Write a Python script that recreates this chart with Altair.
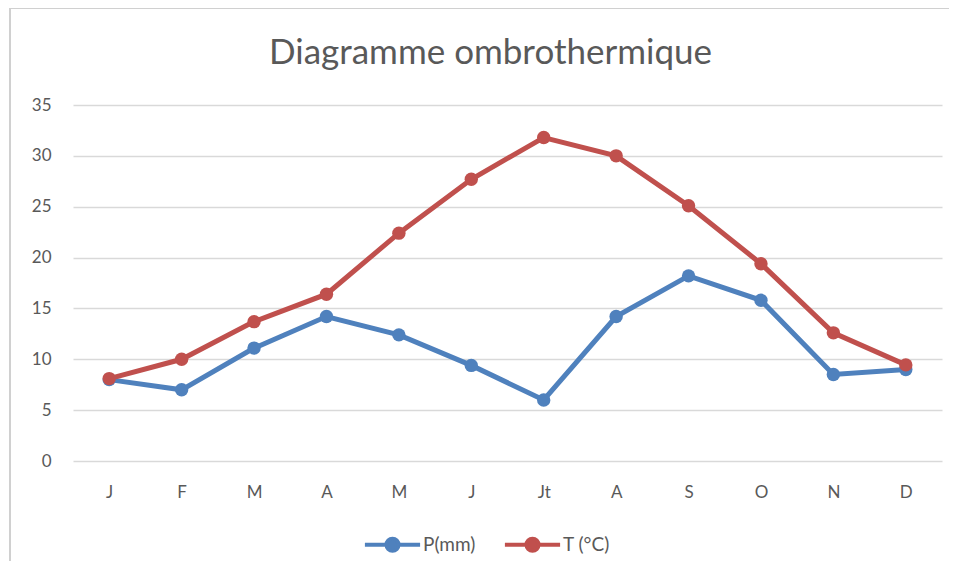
import altair as alt
import pandas as pd

months = ["J", "F", "M", "A", "M", "J", "Jt", "A", "S", "O", "N", "D"]
precip = [8.0, 7.0, 11.1, 14.2, 12.4, 9.4, 6.0, 14.2, 18.2, 15.8, 8.5, 9.0]
temp = [8.1, 10.0, 13.7, 16.4, 22.4, 27.7, 31.8, 30.0, 25.1, 19.4, 12.6, 9.45]
series = ["P(mm)", "T (°C)"]
colors = ["#4F81BD", "#C0504D"]

keys = [f"{m}_{i}" for i, m in enumerate(months)]
rows = []
for s, vals in zip(series, [precip, temp]):
    for k, v in zip(keys, vals):
        rows.append({"key": k, "serie": s, "value": v})
df = pd.DataFrame(rows)

FONT = "Lato"
GRAY = "#595959"

x = alt.X("key:N", sort=keys, title=None,
          scale=alt.Scale(type="point", padding=0.5),
          axis=alt.Axis(labelExpr="split(datum.label, '_')[0]", labelAngle=0,
                        domain=False, ticks=False, grid=False, labelPadding=23,
                        labelFontSize=17, labelColor=GRAY, labelFont=FONT))
y = alt.Y("value:Q", title=None,
          scale=alt.Scale(domain=[0, 35], nice=False),
          axis=alt.Axis(values=[0, 5, 10, 15, 20, 25, 30, 35], domain=False, ticks=False,
                        gridColor="#D9D9D9", gridWidth=1.5, labelPadding=22,
                        labelFontSize=17, labelColor=GRAY, labelFont=FONT))

legend_path = "M-4.6,0 L-1,0 M1,0 L4.6,0 M-1,0 A1,1 0 1,1 1,0 A1,1 0 1,1 -1,0 Z"
color = alt.Color("serie:N", sort=series, title=None,
                  scale=alt.Scale(domain=series, range=colors),
                  legend=alt.Legend(orient="none", direction="horizontal", legendX=310,
                                    legendY=430, symbolType=legend_path, symbolSize=144,
                                    symbolStrokeWidth=4, labelOffset=21, columnPadding=20,
                                    labelFontSize=19, labelColor=GRAY, labelFont=FONT))

border = alt.Chart(pd.DataFrame({"a": [0]})).mark_rect(
    fillOpacity=0, stroke="#D0D0D0", strokeWidth=2
).encode(x=alt.value(-63), x2=alt.value(900), y=alt.value(-97), y2=alt.value(500))

lines = alt.Chart(df).mark_line(strokeWidth=5).encode(x=x, y=y, color=color, order=alt.Order("serie:N"))
points = alt.Chart(df).mark_point(filled=True, size=180, opacity=1).encode(x=x, y=y, color=color)

chart = alt.layer(border, lines, points).properties(
    width=869, height=356,
    autosize=alt.AutoSizeParams(type="none"),
    padding={"left": 65, "top": 97, "right": 7, "bottom": 100},
    title=alt.Title("Diagramme ombrothermique", fontSize=35, font=FONT, color=GRAY,
                    fontWeight="normal", anchor="middle", frame="group",
                    baseline="alphabetic", offset=-92, dx=-17),
).configure_view(stroke=None)

chart.save("out.html", embed_options={"renderer": "svg", "actions": False})
